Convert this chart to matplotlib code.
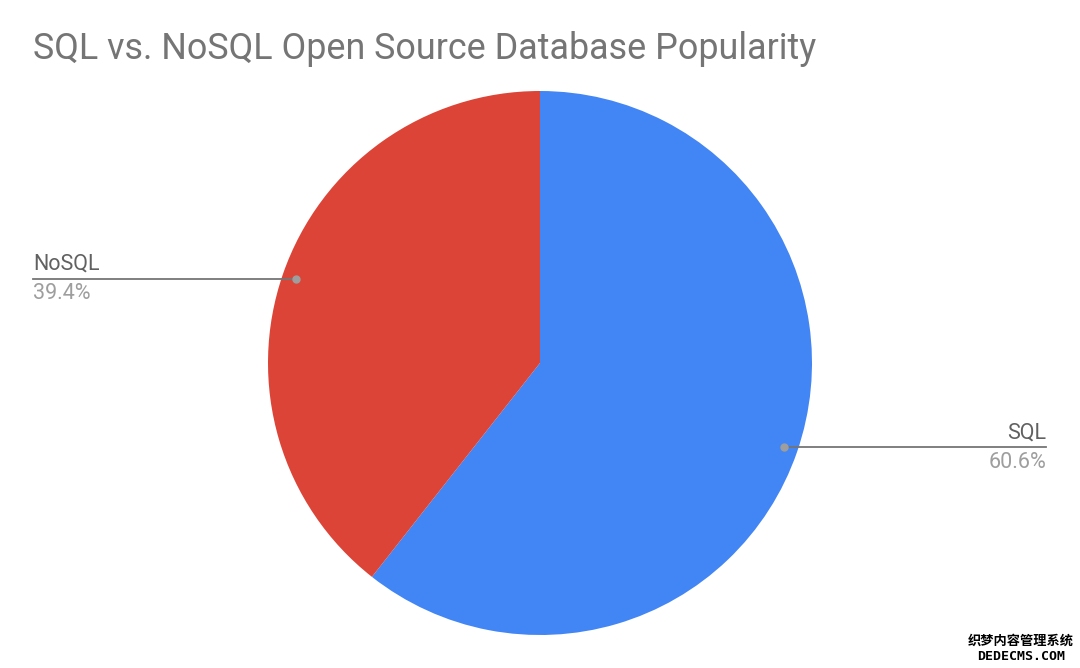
import numpy as np
import matplotlib
matplotlib.use("Agg")
from matplotlib import pyplot as plt

labels = ["SQL", "NoSQL"]
shares = [60.6, 39.4]
colors = ["#4285F4", "#DB4437"]

plt.rcParams['font.family'] = ['Roboto', 'DejaVu Sans']

fig = plt.figure(figsize=(10.8, 6.68), dpi=100)
W, H = 1080, 668
cx, cy, r = 540, 363, 272
ax = fig.add_axes([(cx - r) / W, (H - cy - r) / H, 2 * r / W, 2 * r / H])

ax.pie(shares, colors=colors, startangle=90, counterclock=False, radius=1,
       wedgeprops=dict(linewidth=0))
ax.set_xlim(-1, 1)
ax.set_ylim(-1, 1)
ax.set_aspect('equal')
ax.axis('off')

# leader lines with labels
total = sum(shares)
start = 0.0
ends = {"SQL": (1046 - cx) / r, "NoSQL": (33 - cx) / r}
for lab, val in zip(labels, shares):
    mid = start + val / total * 360 / 2
    start += val / total * 360
    ang = np.deg2rad(90 - mid)
    px, py = 0.95 * np.cos(ang), 0.95 * np.sin(ang)
    ex = ends[lab]
    ax.plot([px, ex], [py, py], color='#757575', lw=1.3, clip_on=False, zorder=3)
    ax.plot([px], [py], 'o', color='#9e9e9e', ms=5, clip_on=False, zorder=4)
    ha = 'left' if ex < 0 else 'right'
    ax.text(ex, py + 0.015, lab, ha=ha, va='bottom', fontsize=15.5, color='#616161')
    ax.text(ex, py - 0.015, '{:.1f}%'.format(val), ha=ha, va='top', fontsize=15.5,
            color='#9e9e9e')

fig.text(33 / W, 1 - 49 / H, "SQL vs. NoSQL Open Source Database Popularity",
         ha='left', va='center', fontsize=25.8, color='#757575')

# watermark
fig.text(1021 / W, 1 - 641 / H, "织梦内容管理系统", ha='center', va='center',
         fontsize=9.5, color='black', fontweight='bold',
         family=['Noto Sans CJK SC', 'DejaVu Sans'])
fig.text(1021 / W, 1 - 656 / H, "DEDECMS.COM", ha='center', va='center',
         fontsize=9.5, color='black', fontweight='bold', family=['DejaVu Sans Mono'])

fig.savefig('out.png', dpi=100, facecolor='white')
plt.close()
